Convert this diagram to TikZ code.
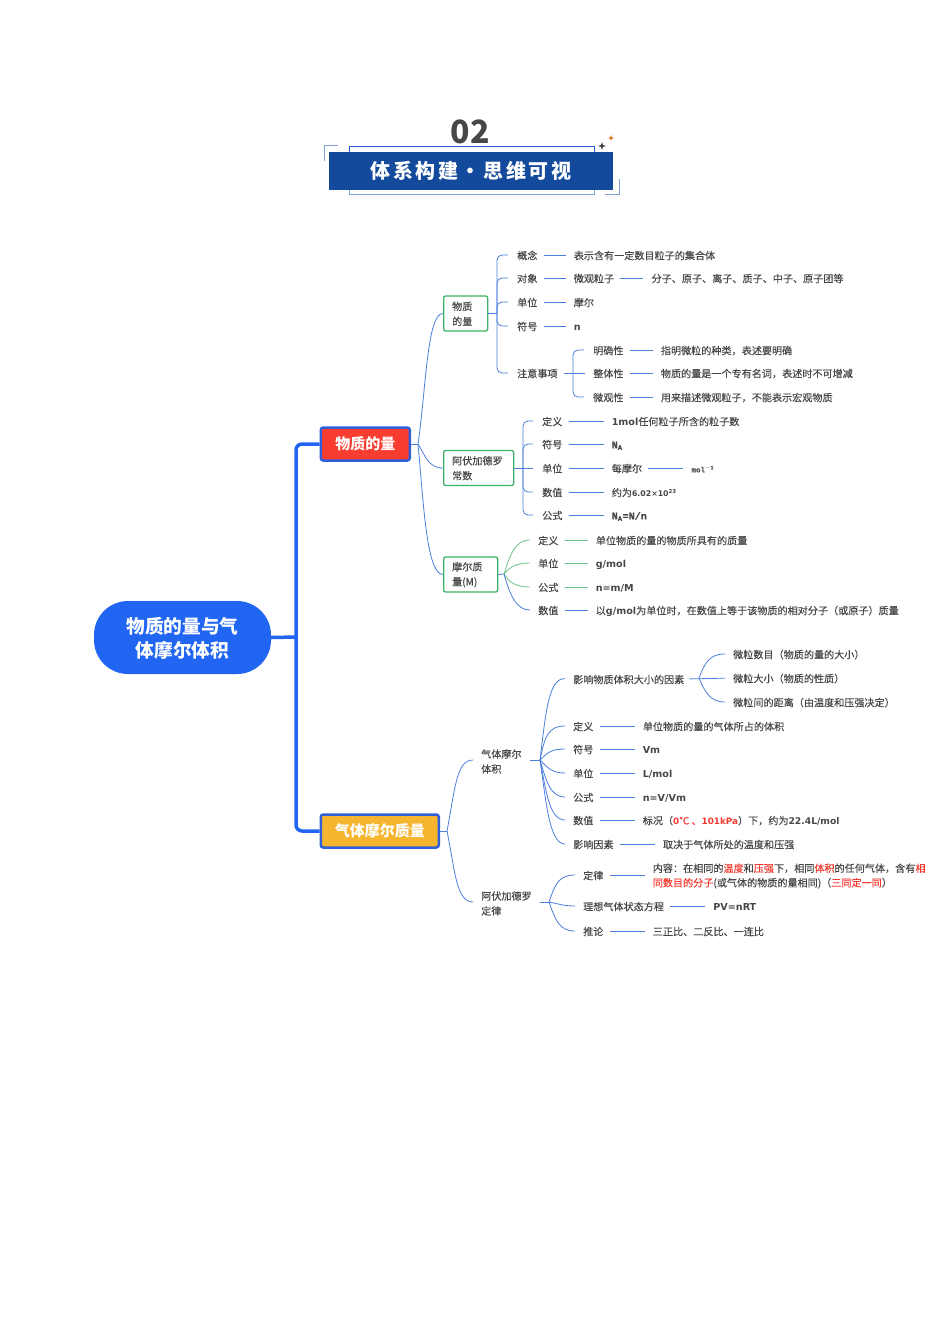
\documentclass[tikz,border=0pt]{standalone}
\usepackage{fontspec}
\setmainfont{Noto Sans CJK SC}[UprightFeatures={FakeBold=0.2}]
\newfontfamily\latfont{DejaVu Sans}
\newfontfamily\slabfont{Liberation Mono}[FakeBold=0.3]
\newfontfamily\bannerfont[LetterSpace=13]{Noto Sans CJK SC}
\usetikzlibrary{arrows,shapes,positioning}

\definecolor{rootblue}{HTML}{2166F3}
\definecolor{edgeblue}{HTML}{2F60D8}
\definecolor{linkblue}{HTML}{4B7EDD}
\definecolor{linkgreen}{HTML}{6EC08A}
\definecolor{boxgreen}{HTML}{3DB066}
\definecolor{topicred}{HTML}{F93C30}
\definecolor{topicamber}{HTML}{F5B52E}
\definecolor{inkgray}{HTML}{474747}
\definecolor{hotred}{HTML}{F23A30}
\definecolor{bannerblue}{HTML}{134A9B}
\definecolor{framelight}{HTML}{7FA3D8}

\newcommand{\lat}[1]{{\latfont\bfseries\fontsize{9.6}{15}\selectfont #1}}
\newcommand{\latsmall}[1]{{\latfont\bfseries\fontsize{8.8}{15}\selectfont #1}}
\newcommand{\slab}[1]{{\slabfont\bfseries #1}}
\newcommand{\hot}[1]{\textcolor{hotred}{#1}}

\begin{document}
\begin{tikzpicture}[
            x=1pt,y=-1pt,
            every node/.style={font=\fontsize{10.1}{15}\selectfont, text=inkgray},
            rootnode/.style={fill=rootblue, rounded corners=34pt, minimum width=177pt, minimum height=73pt, align=center, text=white, font=\bfseries\fontsize{18.7}{24}\selectfont},
            topic/.style={draw=edgeblue, line width=2.5pt, rounded corners=2.5pt, anchor=west, minimum height=33pt, text=white, font=\bfseries\fontsize{15}{18}\selectfont},
            subbox/.style={draw=boxgreen, line width=1.3pt, rounded corners=2pt, anchor=west, minimum height=35pt, inner xsep=8.5pt, inner ysep=0pt, align=left, execute at begin node={\rule{0pt}{9pt}}},
            plain/.style={anchor=west, inner sep=0pt, align=left, execute at begin node={\rule{0pt}{10pt}}},
            leaf/.style={anchor=west, inner sep=0pt, text height=10.3pt, text depth=1.5pt},
            trunk/.style={draw=rootblue, line width=3.5pt, rounded corners=6pt},
            link/.style={draw=linkblue, line width=0.8pt},
            bracket/.style={link, rounded corners=5pt, shorten >=9pt},
            fan/.style={link, shorten >=8pt},
            lead/.style={link, shorten <=6pt, shorten >=8pt},
            node distance=37pt
  ]
  \useasboundingbox (0,0) rectangle (950,1344);

  % banner
  \draw[edgeblue, line width=0.9pt] (349,152) -- (349,146) -- (594,146) -- (594,152);
  \draw[framelight, line width=0.9pt] (349,190) -- (349,194) -- (594,194) -- (594,190);
  \draw[framelight, line width=1pt] (338,145) -- (324,145) -- (324,161);
  \draw[framelight, line width=1pt] (619,179) -- (619,194) -- (605,194);
  \node[fill=bannerblue, minimum width=284pt, minimum height=38pt, text=white, font=\bannerfont\bfseries\fontsize{20}{24}\selectfont] (banner) at (471,171) {体系构建・思维可视};
  \node[font=\bfseries\fontsize{32}{34}\selectfont, inner sep=0pt] (number) at (470,132) {02};
  \node[star, star points=4, star point ratio=3, fill=black!75, inner sep=0pt, minimum size=8pt] (starblack) at (602,146) {};
  \node[star, star points=4, star point ratio=3, fill=orange!80!black, inner sep=0pt, minimum size=6pt] (starorange) at (611,138) {};

  % main branches
  \node[rootnode] (root) at (182.5,637.5) {\rule{0pt}{18pt}物质的量与气\\体摩尔体积};
  \node[topic, fill=topicred, minimum width=89pt] (amount) at (319.5,444) {物质的量};
  \node[topic, fill=topicamber, minimum width=118pt] (gas) at (319.5,831) {气体摩尔质量};
  \coordinate (trunkfork) at (296,637);

  \draw[trunk] (root.east) -- (trunkfork);
  \draw[trunk] (trunkfork) |- (amount.west);
  \draw[trunk] (trunkfork) |- (gas.west);

  % amount of substance
  \node[subbox, text width=27pt] (substance) at (443,313.5) {物质\\的量};
  \node[subbox, text width=53pt] (avogadro) at (443,468) {阿伏加德罗\\常数};
  \node[subbox, text width=37pt] (molar) at (443,574.5) {摩尔质\\量(M)};
  \coordinate (amountfork) at (418,444);

  \draw[link] (amount.east) -- (amountfork);
  \draw[link] (amountfork) .. controls (426,390) and (427,313) .. (substance.west);
  \draw[link] (amountfork) .. controls (425,455) and (428,468) .. (avogadro.west);
  \draw[link] (amountfork) .. controls (424,510) and (427,574) .. (molar.west);

  \node[leaf] (concept) at (517,255) {概念};
  \node[leaf] (conceptText) [right=of concept, xshift=-1pt] {表示含有一定数目粒子的集合体};
  \node[leaf] (object) at (517,278) {对象};
  \node[leaf] (objectText) [right=of object, xshift=-1pt] {微观粒子};
  \node[leaf] (objectMore) [right=of objectText] {分子、原子、离子、质子、中子、原子团等};
  \node[leaf] (unit) at (517,302) {单位};
  \node[leaf] (unitText) [right=of unit, xshift=-1pt] {摩尔};
  \node[leaf] (symbol) at (517,326) {符号};
  \node[leaf] (symbolText) [right=of symbol, xshift=-1pt] {\lat{n}};
  \node[leaf] (notes) at (517,373) {注意事项};
  \node[leaf] (clear) at (593,350) {明确性};
  \node[leaf] (clearText) [right=of clear] {指明微粒的种类，表述要明确};
  \node[leaf] (whole) at (593,373) {整体性};
  \node[leaf] (wholeText) [right=of whole] {物质的量是一个专有名词，表述时不可增减};
  \node[leaf] (micro) at (593,397) {微观性};
  \node[leaf] (microText) [right=of micro] {用来描述微观粒子，不能表示宏观物质};
  \coordinate (substancefork) at (497,313.5);
  \coordinate (notesfork) at (573,373);

  \draw[link] (substance.east) -- (substancefork);
  \draw[bracket] (substancefork) |- (concept.west);
  \draw[bracket] (substancefork) |- (object.west);
  \draw[bracket] (substancefork) |- (unit.west);
  \draw[bracket] (substancefork) |- (symbol.west);
  \draw[bracket] (substancefork) |- (notes.west);
  \draw[lead] (concept.east) -- (conceptText.west);
  \draw[lead] (object.east) -- (objectText.west);
  \draw[lead] (objectText.east) -- (objectMore.west);
  \draw[lead] (unit.east) -- (unitText.west);
  \draw[lead] (symbol.east) -- (symbolText.west);
  \draw[lead] (notes.east) -- (whole.west);
  \draw[bracket] (notesfork) |- (clear.west);
  \draw[bracket] (notesfork) |- (micro.west);
  \draw[lead] (clear.east) -- (clearText.west);
  \draw[lead] (whole.east) -- (wholeText.west);
  \draw[lead] (micro.east) -- (microText.west);

  \node[leaf] (avDef) at (542,421) {定义};
  \node[leaf] (avDefText) [right=49pt of avDef] {\lat{1mol}任何粒子所含的粒子数};
  \node[leaf] (avSym) at (542,444) {符号};
  \node[leaf] (avSymText) [right=49pt of avSym] {\slab{N\textsubscript{A}}};
  \node[leaf] (avUnit) at (542,468) {单位};
  \node[leaf] (avUnitText) [right=49pt of avUnit] {每摩尔};
  \node[leaf] (avUnitMore) [right=49pt of avUnitText] {\slab{\fontsize{7.5}{8}\selectfont mol\textsuperscript{$-$1}}};
  \node[leaf] (avVal) at (542,492) {数值};
  \node[leaf] (avValText) [right=49pt of avVal] {约为{\latfont\bfseries\fontsize{7.8}{10}\selectfont 6.02×10\textsuperscript{23}}};
  \node[leaf] (avForm) at (542,515) {公式};
  \node[leaf] (avFormText) [right=49pt of avForm] {\slab{N\textsubscript{A}=N/n}};
  \coordinate (avogadrofork) at (523,468);

  \draw[bracket] (avogadro.east) -- (avUnit.west);
  \draw[bracket] (avogadrofork) |- (avDef.west);
  \draw[bracket] (avogadrofork) |- (avSym.west);
  \draw[bracket] (avogadrofork) |- (avVal.west);
  \draw[bracket] (avogadrofork) |- (avForm.west);
  \draw[lead] (avDef.east) -- (avDefText.west);
  \draw[lead] (avSym.east) -- (avSymText.west);
  \draw[lead] (avUnit.east) -- (avUnitText.west);
  \draw[lead] (avUnitText.east) -- (avUnitMore.west);
  \draw[lead] (avVal.east) -- (avValText.west);
  \draw[lead] (avForm.east) -- (avFormText.west);

  \node[leaf] (moDef) at (538,540) {定义};
  \node[leaf] (moDefText) [right=of moDef] {单位物质的量的物质所具有的质量};
  \node[leaf] (moUnit) at (538,563) {单位};
  \node[leaf] (moUnitText) [right=of moUnit] {\lat{g/mol}};
  \node[leaf] (moForm) at (538,587) {公式};
  \node[leaf] (moFormText) [right=of moForm] {\lat{n=m/M}};
  \node[leaf] (moVal) at (538,610) {数值};
  \node[leaf] (moValText) [right=of moVal] {以\lat{g/mol}为单位时，在数值上等于该物质的相对分子（或原子）质量};
  \coordinate (molarfork) at (504,574);

  \draw[link] (molar.east) -- (molarfork);
  \draw[fan, draw=linkgreen] (molarfork) .. controls (510,555) and (515,540) .. (moDef.west);
  \draw[fan, draw=linkgreen] (molarfork) .. controls (509,568) and (515,563) .. (moUnit.west);
  \draw[fan, draw=linkgreen] (molarfork) .. controls (509,582) and (515,587) .. (moForm.west);
  \draw[fan] (molarfork) .. controls (510,595) and (516,610) .. (moVal.west);
  \draw[lead, draw=linkgreen] (moDef.east) -- (moDefText.west);
  \draw[lead, draw=linkgreen] (moUnit.east) -- (moUnitText.west);
  \draw[lead, draw=linkgreen] (moForm.east) -- (moFormText.west);
  \draw[lead] (moVal.east) -- (moValText.west);

  % molar volume of gas
  \node[plain] (volume) at (481,761.5) {气体摩尔\\体积};
  \node[plain] (law) at (481,903.5) {阿伏加德罗\\定律};
  \coordinate (gasfork) at (447,831);

  \draw[link] (gas.east) -- (gasfork);
  \draw[fan] (gasfork) .. controls (455,790) and (456,760) .. (volume.west |- 0,760);
  \draw[fan] (gasfork) .. controls (455,870) and (456,902) .. (law.west |- 0,902);

  \node[leaf] (factor) at (573,679) {影响物质体积大小的因素};
  \node[leaf] (count) at (733,654) {微粒数目（物质的量的大小）};
  \node[leaf] (size) at (733,678) {微粒大小（物质的性质）};
  \node[leaf] (distance) at (733,702) {微粒间的距离（由温度和压强决定）};
  \node[leaf] (vmDef) at (573,726) {定义};
  \node[leaf] (vmDefText) [right=49pt of vmDef] {单位物质的量的气体所占的体积};
  \node[leaf] (vmSym) at (573,749) {符号};
  \node[leaf] (vmSymText) [right=49pt of vmSym] {\lat{Vm}};
  \node[leaf] (vmUnit) at (573,773) {单位};
  \node[leaf] (vmUnitText) [right=49pt of vmUnit] {\lat{L/mol}};
  \node[leaf] (vmForm) at (573,797) {公式};
  \node[leaf] (vmFormText) [right=49pt of vmForm] {\lat{n=V/Vm}};
  \node[leaf] (vmVal) at (573,820) {数值};
  \node[leaf] (vmValText) [right=49pt of vmVal] {标况（\hot{\latsmall{0}℃ 、\latsmall{101kPa}}）下，约为{\latfont\bfseries\fontsize{9.2}{15}\selectfont 22.4L/mol}};
  \node[leaf] (vmCause) at (573,844) {影响因素};
  \node[leaf] (vmCauseText) [right=49pt of vmCause] {取决于气体所处的温度和压强};
  \coordinate (volumefork) at (540,760);
  \coordinate (factorfork) at (699,678);

  \draw[link] (530,760) -- (volumefork);
  \draw[fan] (volumefork) .. controls (546,710) and (549,678) .. (factor.west);
  \draw[fan] (volumefork) .. controls (545,735) and (549,726) .. (vmDef.west);
  \draw[fan] (volumefork) .. controls (548,752) and (552,749) .. (vmSym.west);
  \draw[fan] (volumefork) .. controls (548,768) and (552,773) .. (vmUnit.west);
  \draw[fan] (volumefork) .. controls (546,780) and (550,797) .. (vmForm.west);
  \draw[fan] (volumefork) .. controls (546,790) and (549,820) .. (vmVal.west);
  \draw[fan] (volumefork) .. controls (546,800) and (549,844) .. (vmCause.west);
  \draw[lead, shorten <=5pt] (factor.east) -- (size.west);
  \draw[fan] (factorfork) .. controls (705,662) and (710,654) .. (count.west);
  \draw[fan] (factorfork) .. controls (705,692) and (710,702) .. (distance.west);
  \draw[lead] (vmDef.east) -- (vmDefText.west);
  \draw[lead] (vmSym.east) -- (vmSymText.west);
  \draw[lead] (vmUnit.east) -- (vmUnitText.west);
  \draw[lead] (vmForm.east) -- (vmFormText.west);
  \draw[lead] (vmVal.east) -- (vmValText.west);
  \draw[lead] (vmCause.east) -- (vmCauseText.west);

  \node[leaf] (lawDef) at (583,875) {定律};
  \node[plain, font=\fontsize{10.1}{14.5}\selectfont] (lawDefText) [right=49pt of lawDef, yshift=-1pt] {内容：在相同的\hot{温度}和\hot{压强}下，相同\hot{体积}的任何气体，含有\hot{相}\\\hot{同数目的分子}(或气体的物质的量相同)（\hot{三同定一同}）};
  \node[leaf] (ideal) at (583,906) {理想气体状态方程};
  \node[leaf] (idealText) [right=49pt of ideal] {\lat{PV=nRT}};
  \node[leaf] (infer) at (583,931) {推论};
  \node[leaf] (inferText) [right=49pt of infer] {三正比、二反比、一连比};
  \coordinate (lawfork) at (549,902);

  \draw[link] (540,902) -- (lawfork);
  \draw[fan] (lawfork) .. controls (555,885) and (558,875) .. (lawDef.west);
  \draw[fan] (lawfork) .. controls (556,903) and (562,906) .. (ideal.west);
  \draw[fan] (lawfork) .. controls (555,918) and (558,931) .. (infer.west);
  \draw[lead] (lawDef.east) -- (lawDefText.west |- lawDef);
  \draw[lead] (ideal.east) -- (idealText.west);
  \draw[lead] (infer.east) -- (inferText.west);

\end{tikzpicture}
\end{document}
